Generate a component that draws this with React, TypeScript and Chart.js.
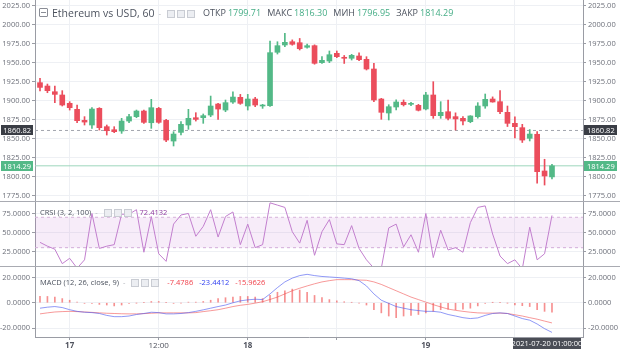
import React, { useEffect, useRef } from 'react';
import { Chart, registerables } from 'chart.js';

Chart.register(...registerables);

// ---------------- data ----------------
const openV = [
  1923.7, 1919.3, 1911.8, 1907.5, 1896.5, 1888.6, 1874.1, 1868.0, 1889.9, 1865.8,
  1861.8, 1860.1, 1873.2, 1879.0, 1886.4, 1871.0, 1889.9, 1874.1, 1846.9, 1858.3,
  1868.0, 1877.6, 1877.6, 1881.1, 1895.6, 1887.7, 1898.2, 1904.4, 1893.0, 1902.2,
  1893.0, 1893.4, 1963.7, 1973.3, 1977.6, 1976.3, 1970.3, 1972.4, 1950.0, 1952.2,
  1962.3, 1957.0, 1955.8, 1958.8, 1954.4, 1941.7, 1902.2, 1883.8, 1891.7, 1897.9,
  1895.2, 1893.9, 1889.1, 1907.5, 1880.3, 1885.5, 1879.0, 1876.8, 1872.4, 1879.0,
  1893.0, 1902.2, 1898.7, 1884.7, 1870.2, 1864.5, 1850.5, 1855.8, 1807.5, 1799.71,
];
const highV = [
  1929.4, 1921.9, 1919.3, 1913.2, 1898.7, 1894.3, 1879.0, 1890.8, 1890.8, 1868.0,
  1865.8, 1876.8, 1882.0, 1887.7, 1887.7, 1901.8, 1891.2, 1875.4, 1859.2, 1872.4,
  1888.6, 1884.2, 1882.5, 1906.1, 1896.5, 1900.9, 1911.8, 1908.3, 1908.3, 1904.4,
  1895.2, 1978.5, 1977.6, 1988.6, 1980.0, 1981.9, 1974.6, 1973.5, 1957.9, 1965.4,
  1965.4, 1959.5, 1961.0, 1963.0, 1957.9, 1949.2, 1903.1, 1894.7, 1901.0, 1901.0,
  1898.0, 1895.2, 1911.0, 1925.0, 1898.7, 1900.9, 1884.0, 1879.0, 1880.3, 1897.4,
  1908.8, 1905.0, 1913.2, 1893.0, 1878.6, 1868.9, 1862.0, 1859.2, 1822.9, 1816.30,
];
const lowV = [
  1913.0, 1910.5, 1897.4, 1893.0, 1887.7, 1871.0, 1868.0, 1863.6, 1861.4, 1854.8,
  1857.9, 1857.0, 1871.0, 1877.6, 1870.2, 1863.6, 1870.2, 1846.0, 1840.4, 1854.8,
  1862.3, 1873.2, 1870.2, 1878.9, 1875.4, 1885.5, 1896.5, 1895.2, 1887.7, 1892.1,
  1889.9, 1892.5, 1961.4, 1971.0, 1973.0, 1966.7, 1969.0, 1948.0, 1949.0, 1950.0,
  1956.6, 1949.0, 1953.5, 1952.5, 1940.4, 1898.7, 1875.5, 1874.6, 1887.8, 1893.0,
  1893.5, 1886.5, 1887.8, 1876.8, 1876.8, 1874.6, 1861.4, 1868.0, 1871.0, 1877.0,
  1890.0, 1898.0, 1883.0, 1866.0, 1851.0, 1845.0, 1847.0, 1791.3, 1789.0, 1796.95,
];
const closeV = [
  1917.5, 1913.2, 1908.3, 1894.3, 1890.8, 1873.7, 1871.9, 1889.0, 1864.5, 1860.5,
  1859.2, 1873.2, 1879.0, 1886.4, 1871.5, 1890.8, 1871.5, 1848.2, 1856.1, 1868.9,
  1876.8, 1875.4, 1880.3, 1893.0, 1889.0, 1897.4, 1904.8, 1896.5, 1902.2, 1894.3,
  1894.3, 1963.2, 1972.4, 1976.8, 1974.2, 1968.4, 1972.4, 1949.2, 1953.1, 1960.5,
  1957.9, 1955.8, 1959.7, 1954.0, 1941.7, 1900.9, 1884.7, 1892.1, 1898.3, 1894.7,
  1896.1, 1887.4, 1907.5, 1880.3, 1884.7, 1876.8, 1876.0, 1873.3, 1879.9, 1893.0,
  1901.8, 1898.3, 1885.5, 1870.2, 1865.8, 1848.2, 1856.1, 1806.6, 1800.9, 1814.29,
];
const crsiV = [
  37, 32, 28, 9, 16, 3, 14, 75, 29, 32,
  34, 74, 74, 80, 24, 71, 22, 12, 61, 73,
  75, 45, 58, 80, 44, 71, 77, 34, 61, 30,
  34, 89, 86, 83, 51, 36, 66, 20, 51, 67,
  35, 34, 59, 29, 14, 3, 3, 56, 61, 31,
  47, 24, 75, 17, 53, 27, 30, 24, 63, 83,
  85, 48, 19, 9, 14, 2, 57, 14, 22, 72.4132,
];
const macdV = [
  -4.3, -3.5, -3.0, -3.8, -5.5, -6.8, -7.5, -7.8, -8.5, -10.0,
  -11.0, -11.0, -10.5, -9.3, -8.5, -7.5, -7.8, -8.8, -8.8, -8.5,
  -7.8, -6.8, -5.6, -4.3, -3.0, -1.8, 0.0, 1.5, 2.3, 2.8,
  2.5, 7.0, 12.0, 16.5, 19.5, 21.5, 22.5, 21.5, 20.8, 20.4,
  20.0, 19.5, 19.0, 17.5, 13.3, 7.0, 2.0, -0.5, -3.0, -4.3,
  -5.5, -6.2, -6.8, -6.8, -7.5, -9.3, -10.5, -11.8, -12.5, -12.0,
  -10.0, -8.5, -8.0, -8.5, -10.5, -12.5, -13.8, -16.8, -20.5, -23.4412,
];
const signalV = [
  -8.8, -8.0, -7.3, -7.0, -6.8, -7.0, -7.3, -7.6, -8.0, -8.3,
  -8.5, -8.7, -8.8, -8.8, -8.6, -8.3, -8.0, -8.0, -8.0, -8.0,
  -8.0, -7.8, -7.0, -6.3, -5.5, -4.3, -3.0, -2.0, -1.3, -0.3,
  0.8, 2.6, 4.5, 7.0, 9.5, 11.5, 13.3, 15.0, 16.5, 17.5,
  18.3, 18.3, 18.3, 18.0, 17.8, 16.5, 14.5, 12.0, 9.5, 7.0,
  4.5, 2.5, 0.5, -1.5, -3.3, -5.0, -6.0, -6.8, -7.5, -8.0,
  -8.2, -8.2, -8.2, -8.5, -9.5, -10.5, -11.8, -13.0, -14.5, -15.9626,
];
const histV = [
  5, 5, 4.5, 3.3, 2, 0.5, -0.5, -0.5, -1.3, -1.8,
  -2.5, -1.8, -0.5, -0.2, 0.2, 1, 1, 0.3, -0.5, -0.2,
  0.5, 0.5, 1, 2, 3.3, 4, 4.5, 5, 5, 4.5,
  3.3, 5.8, 8.3, 9.5, 10.8, 10, 8.3, 5.8, 4, 2.5,
  1.5, 0.8, 0.3, -0.2, -1.8, -5.5, -8, -10.5, -11.8, -10.5,
  -10, -9.3, -8, -6.8, -5.5, -5, -5.5, -5, -4.3, -2.5,
  -0.5, 0.2, 0.2, -0.2, -1.8, -2.3, -3, -5.5, -6.8, -7.4786,
];
const priceTicks = [1775, 1800, 1825, 1850, 1875, 1900, 1925, 1950, 1975, 2000, 2025];
const crsiTicks = [25, 50, 75];
const macdTicks = [-20, 0, 20];
const crsiBand = [70, 30];
const timeTickIdx = [4, 16, 28, 40, 52, 64];
const timeTickLabels = ['17', '12:00', '18', '', '19', ''];
const dayLabels = ['17', '18', '19'];
const prevLevel = 1860.82;
const lastLevel = 1814.29;
const lastTimeLabel = '2021-07-20 01:00:00';

// ---------------- style ----------------
const FONT = '"Open Sans", sans-serif';
const GREEN = '#53b987';
const RED = '#eb4d5c';
const GRID = '#eef0f4';
const AXIS = '#9a9ca4';
const LABEL = '#6d707a';
const X_MIN = -0.674;
const X_MAX = 73.18;
const W = 620;

const idx = openV.map((_, i) => i);
const candleColors = idx.map((i) => (closeV[i] >= openV[i] ? GREEN : RED));

function xScale(showLabels: boolean): any {
  return {
    type: 'linear',
    min: X_MIN,
    max: X_MAX,
    offset: false,
    afterBuildTicks: (s: any) => {
      s.ticks = timeTickIdx.map((v) => ({ value: v }));
    },
    grid: {
      color: GRID,
      offset: false,
      drawTicks: showLabels,
      tickLength: 3,
      tickColor: AXIS,
    },
    border: { display: showLabels, color: AXIS },
    ticks: showLabels
      ? {
          autoSkip: false,
          maxRotation: 0,
          padding: 1,
          color: '#50535e',
          font: (ctx: any) => ({
            family: FONT,
            size: 8,
            weight: dayLabels.includes(ctx.tick && ctx.tick.label) ? 'bold' : 'normal',
          }),
          callback: (v: number) => timeTickLabels[timeTickIdx.indexOf(v)] ?? '',
        }
      : { display: false },
    afterFit: (s: any) => {
      s.height = showLabels ? 14 : 0;
      s.paddingLeft = 0;
      s.paddingRight = 0;
    },
  };
}

function yScale(
  pos: 'left' | 'right',
  min: number,
  max: number,
  ticks: number[],
  digits: number,
  width: number,
): any {
  return {
    type: 'linear',
    position: pos,
    min,
    max,
    afterBuildTicks: (s: any) => {
      s.ticks = ticks.map((v) => ({ value: v }));
    },
    grid: {
      drawOnChartArea: pos === 'left',
      color: GRID,
      tickColor: AXIS,
      tickLength: 3,
    },
    border: { display: true, color: AXIS },
    ticks: {
      color: LABEL,
      font: { family: FONT, size: 7.5 },
      padding: 2,
      callback: (v: number) => Number(v).toFixed(digits),
    },
    afterFit: (s: any) => {
      s.width = width;
      s.paddingTop = 0;
      s.paddingBottom = 0;
    },
  };
}

const baseOptions = {
  animation: false,
  responsive: false,
  maintainAspectRatio: false,
  devicePixelRatio: 1,
  events: [],
  layout: { padding: 0 },
  plugins: { legend: { display: false }, tooltip: { enabled: false } },
};

const priceLabelsPlugin = {
  id: 'priceLabels',
  afterDraw(chart: any) {
    const { ctx, chartArea } = chart;
    const y = chart.scales.y;
    const draw = (v: number, bg: string) => {
      const py = Math.round(y.getPixelForValue(v));
      ctx.save();
      ctx.fillStyle = bg;
      ctx.fillRect(1, py - 5, 32, 10);
      ctx.fillRect(chartArea.right + 1, py - 5, 33, 10);
      ctx.fillStyle = '#ffffff';
      ctx.font = `7.5px ${FONT}`;
      ctx.textBaseline = 'middle';
      ctx.textAlign = 'right';
      ctx.fillText(v.toFixed(2), 31, py + 0.5);
      ctx.textAlign = 'left';
      ctx.fillText(v.toFixed(2), chartArea.right + 4, py + 0.5);
      ctx.restore();
    };
    draw(prevLevel, '#3a3d45');
    draw(lastLevel, GREEN);
  },
};

const timeBoxPlugin = {
  id: 'timeBox',
  afterDraw(chart: any) {
    const { ctx, chartArea } = chart;
    const xs = chart.scales.x;
    const cx = xs.getPixelForValue(idx[idx.length - 1]);
    const w = 68;
    const h = 11;
    let left = cx - w / 2;
    if (left + w > chartArea.right - 2) left = chartArea.right - 2 - w;
    const top = chartArea.bottom + 1;
    ctx.save();
    ctx.fillStyle = '#4a4d56';
    ctx.fillRect(Math.round(left), top, w, h);
    ctx.fillStyle = '#ffffff';
    ctx.font = `7.5px ${FONT}`;
    ctx.textAlign = 'center';
    ctx.textBaseline = 'middle';
    ctx.fillText(lastTimeLabel, Math.round(left) + w / 2, top + h / 2 + 0.5);
    ctx.restore();
  },
};

function priceConfig(): any {
  return {
    type: 'bar',
    data: {
      datasets: [
        {
          type: 'line',
          data: [
            { x: X_MIN, y: prevLevel },
            { x: X_MAX, y: prevLevel },
          ],
          borderColor: '#a3a6ae',
          borderWidth: 1,
          borderDash: [3, 3],
          pointRadius: 0,
          order: 4,
        },
        {
          type: 'line',
          data: [
            { x: X_MIN, y: lastLevel },
            { x: X_MAX, y: lastLevel },
          ],
          borderColor: '#9ed6bd',
          borderWidth: 1,
          pointRadius: 0,
          order: 3,
        },
        {
          type: 'bar',
          data: idx.map((i) => ({ x: i, y: [lowV[i], highV[i]] })),
          backgroundColor: candleColors,
          barThickness: 1,
          grouped: false,
          order: 2,
        },
        {
          type: 'bar',
          data: idx.map((i) => ({ x: i, y: [openV[i], closeV[i]] })),
          backgroundColor: candleColors,
          barThickness: 5,
          minBarLength: 1,
          grouped: false,
          order: 1,
        },
      ],
    },
    options: {
      ...baseOptions,
      scales: {
        x: xScale(false),
        y: yScale('left', 1768, 2032.5, priceTicks, 2, 35),
        y2: yScale('right', 1768, 2032.5, priceTicks, 2, 37),
      },
    },
    plugins: [priceLabelsPlugin],
  };
}

function crsiConfig(): any {
  return {
    type: 'line',
    data: {
      datasets: [
        {
          data: idx.map((i) => ({ x: i, y: crsiV[i] })),
          borderColor: '#c27fce',
          borderWidth: 1,
          pointRadius: 0,
          tension: 0,
          order: 1,
        },
        {
          data: [
            { x: X_MIN, y: crsiBand[0] },
            { x: X_MAX, y: crsiBand[0] },
          ],
          borderColor: '#d5b3da',
          borderWidth: 1,
          borderDash: [3, 3],
          pointRadius: 0,
          fill: '+1',
          backgroundColor: 'rgba(190, 110, 205, 0.13)',
          order: 2,
        },
        {
          data: [
            { x: X_MIN, y: crsiBand[1] },
            { x: X_MAX, y: crsiBand[1] },
          ],
          borderColor: '#d5b3da',
          borderWidth: 1,
          borderDash: [3, 3],
          pointRadius: 0,
          fill: false,
          order: 3,
        },
      ],
    },
    options: {
      ...baseOptions,
      scales: {
        x: xScale(false),
        y: yScale('left', 5.9, 90.1, crsiTicks, 4, 35),
        y2: yScale('right', 5.9, 90.1, crsiTicks, 4, 37),
      },
    },
  };
}

function macdConfig(): any {
  return {
    type: 'bar',
    data: {
      datasets: [
        {
          type: 'line',
          data: idx.map((i) => ({ x: i, y: macdV[i] })),
          borderColor: 'rgba(70, 85, 240, 0.6)',
          borderWidth: 1,
          pointRadius: 0,
          order: 1,
        },
        {
          type: 'line',
          data: idx.map((i) => ({ x: i, y: signalV[i] })),
          borderColor: 'rgba(240, 70, 70, 0.55)',
          borderWidth: 1,
          pointRadius: 0,
          order: 2,
        },
        {
          type: 'bar',
          data: idx.map((i) => ({ x: i, y: histV[i] })),
          backgroundColor: 'rgba(240, 70, 70, 0.6)',
          barThickness: 1,
          grouped: false,
          order: 3,
        },
      ],
    },
    options: {
      ...baseOptions,
      scales: {
        x: xScale(true),
        y: yScale('left', -27.1, 28.3, macdTicks, 4, 35),
        y2: yScale('right', -27.1, 28.3, macdTicks, 4, 37),
      },
    },
    plugins: [timeBoxPlugin],
  };
}

function Pane(props: { make: () => any; top: number; height: number }) {
  const ref = useRef<HTMLCanvasElement>(null);
  useEffect(() => {
    const chart = new Chart(ref.current as HTMLCanvasElement, props.make());
    return () => chart.destroy();
  }, []);
  return (
    <canvas
      ref={ref}
      width={W}
      height={props.height}
      style={{ position: 'absolute', left: 0, top: props.top, width: W, height: props.height, display: 'block' }}
    />
  );
}

const iconBox: React.CSSProperties = {
  display: 'inline-block',
  width: 6,
  height: 6,
  border: '1px solid #c9ccd3',
  background: '#eceef2',
  marginRight: 2,
  verticalAlign: 'middle',
};

function Icons() {
  return (
    <span style={{ marginLeft: 6, marginRight: 6 }}>
      <span style={iconBox} />
      <span style={iconBox} />
      <span style={iconBox} />
    </span>
  );
}

export default function App() {
  const sep: React.CSSProperties = { position: 'absolute', left: 0, width: W, height: 1, background: '#a9abb2' };
  return (
    <div
      style={{
        position: 'fixed',
        left: 0,
        top: 0,
        width: W,
        height: 351,
        background: '#ffffff',
        overflow: 'hidden',
        fontFamily: FONT,
      }}
    >
      <Pane make={priceConfig} top={0} height={201} />
      <div style={{ ...sep, top: 201 }} />
      <Pane make={crsiConfig} top={202} height={64} />
      <div style={{ ...sep, top: 266 }} />
      <Pane make={macdConfig} top={267} height={84} />

      {/* main header */}
      <div
        style={{
          position: 'absolute',
          left: 39,
          top: 4,
          height: 17,
          display: 'flex',
          alignItems: 'center',
          whiteSpace: 'nowrap',
          color: '#4c525e',
        }}
      >
        <span
          style={{
            display: 'inline-block',
            width: 7,
            height: 7,
            border: '1px solid #8a8d96',
            borderRadius: 1,
            marginRight: 4,
            position: 'relative',
          }}
        >
          <span style={{ position: 'absolute', left: 1, right: 1, top: 3, height: 1, background: '#8a8d96' }} />
        </span>
        <span style={{ fontSize: 10.5 }}>Ethereum vs USD, 60</span>
        <span style={{ fontSize: 8, color: '#b0b3ba', marginLeft: 4 }}>-</span>
        <Icons />
        <span style={{ fontSize: 9 }}>
          <span>ОТКР</span>
          <span style={{ color: '#45ad86', marginLeft: 2 }}>1799.71</span>
          <span style={{ marginLeft: 6 }}>МАКС</span>
          <span style={{ color: '#45ad86', marginLeft: 2 }}>1816.30</span>
          <span style={{ marginLeft: 6 }}>МИН</span>
          <span style={{ color: '#45ad86', marginLeft: 2 }}>1796.95</span>
          <span style={{ marginLeft: 6 }}>ЗАКР</span>
          <span style={{ color: '#45ad86', marginLeft: 2 }}>1814.29</span>
        </span>
      </div>

      {/* CRSI header */}
      <div
        style={{
          position: 'absolute',
          left: 40,
          top: 206,
          height: 12,
          display: 'flex',
          alignItems: 'center',
          whiteSpace: 'nowrap',
          fontSize: 7.5,
          color: '#4c525e',
        }}
      >
        <span>CRSI (3, 2, 100)</span>
        <span style={{ color: '#b0b3ba', marginLeft: 4 }}>-</span>
        <Icons />
        <span style={{ color: '#8e3a9e' }}>72.4132</span>
      </div>

      {/* MACD header */}
      <div
        style={{
          position: 'absolute',
          left: 40,
          top: 276,
          height: 12,
          display: 'flex',
          alignItems: 'center',
          whiteSpace: 'nowrap',
          fontSize: 7.5,
          color: '#4c525e',
        }}
      >
        <span>MACD (12, 26, close, 9)</span>
        <span style={{ color: '#b0b3ba', marginLeft: 4 }}>-</span>
        <Icons />
        <span style={{ color: '#f0404a' }}>-7.4786</span>
        <span style={{ color: '#2f3ff0', marginLeft: 6 }}>-23.4412</span>
        <span style={{ color: '#f0404a', marginLeft: 6 }}>-15.9626</span>
      </div>
    </div>
  );
}
